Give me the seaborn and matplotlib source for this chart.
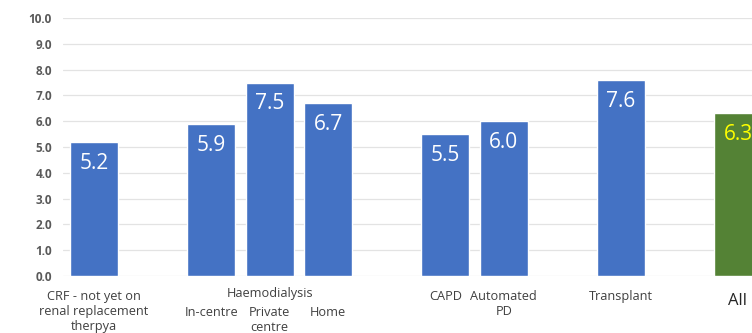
import matplotlib
matplotlib.use("Agg")
import matplotlib.pyplot as plt
import matplotlib.transforms as mtransforms
import seaborn as sns
import pandas as pd

# ---- data ----
categories = ["CRF - not yet on\nrenal replacement\ntherpya", "In-centre", "Private\ncentre", "Home",
              "CAPD", "Automated\nPD", "Transplant", "All"]
values = [5.2, 5.9, 7.5, 6.7, 5.5, 6.0, 7.6, 6.3]
group_label = "Haemodialysis"
y_ticks = [0.0, 1.0, 2.0, 3.0, 4.0, 5.0, 6.0, 7.0, 8.0, 9.0, 10.0]

# ---- layout ----
slots = [0, 2, 3, 4, 6, 7, 9, 11]
bar_colors = ["#4472C4"] * 7 + ["#548235"]
label_colors = ["white"] * 7 + ["#FFFF00"]

sns.set_theme(style="white")
plt.rcParams['font.family'] = ['Open Sans', 'DejaVu Sans']

fig = plt.figure(figsize=(7.52, 3.33), dpi=100)
ax = fig.add_axes([63 / 752, 57 / 333, 1 - 63 / 752, 258 / 333])

df = pd.DataFrame({"pos": slots, "val": values, "cat": categories})
sns.barplot(data=df, x="pos", y="val", hue="pos", palette=bar_colors,
            native_scale=True, width=0.82, legend=False, ax=ax, saturation=1)

ax.set_xlim(-0.53, 11.24)
ax.set_ylim(0, 10)
ax.set_yticks(y_ticks)
ax.set_yticklabels([f"{t:.1f}" for t in y_ticks], fontsize=8.5, color="#595959",
                   fontweight="bold")
ax.tick_params(axis="y", length=0, pad=8)
ax.set_xticks([])
ax.set_xlabel("")
ax.set_ylabel("")
for s in ax.spines.values():
    s.set_visible(False)
ax.grid(axis="y", color="#e3e3e3", linewidth=0.9)
ax.set_axisbelow(True)

# value labels inside bars
for x, v, c in zip(slots, values, label_colors):
    ax.text(x, v - 0.42, f"{v:.1f}", ha="center", va="top", fontsize=15, color=c)

# category labels
trans = mtransforms.blended_transform_factory(ax.transData, ax.transAxes)
for i, (x, cat) in enumerate(zip(slots, categories)):
    if cat == "All":
        ax.text(x, -0.065, cat, ha="center", va="top", fontsize=12, color="#262626",
                transform=trans)
    elif i in (1, 2, 3):
        ax.text(x, -0.118, cat, ha="center", va="top", fontsize=9.2, color="#404040",
                transform=trans, linespacing=1.2)
    else:
        ax.text(x, -0.053, cat, ha="center", va="top", fontsize=9.2, color="#404040",
                transform=trans, linespacing=1.2)
ax.text(3, -0.043, group_label, ha="center", va="top", fontsize=9.2, color="#404040",
        transform=trans)

fig.savefig("out.png", dpi=100)
